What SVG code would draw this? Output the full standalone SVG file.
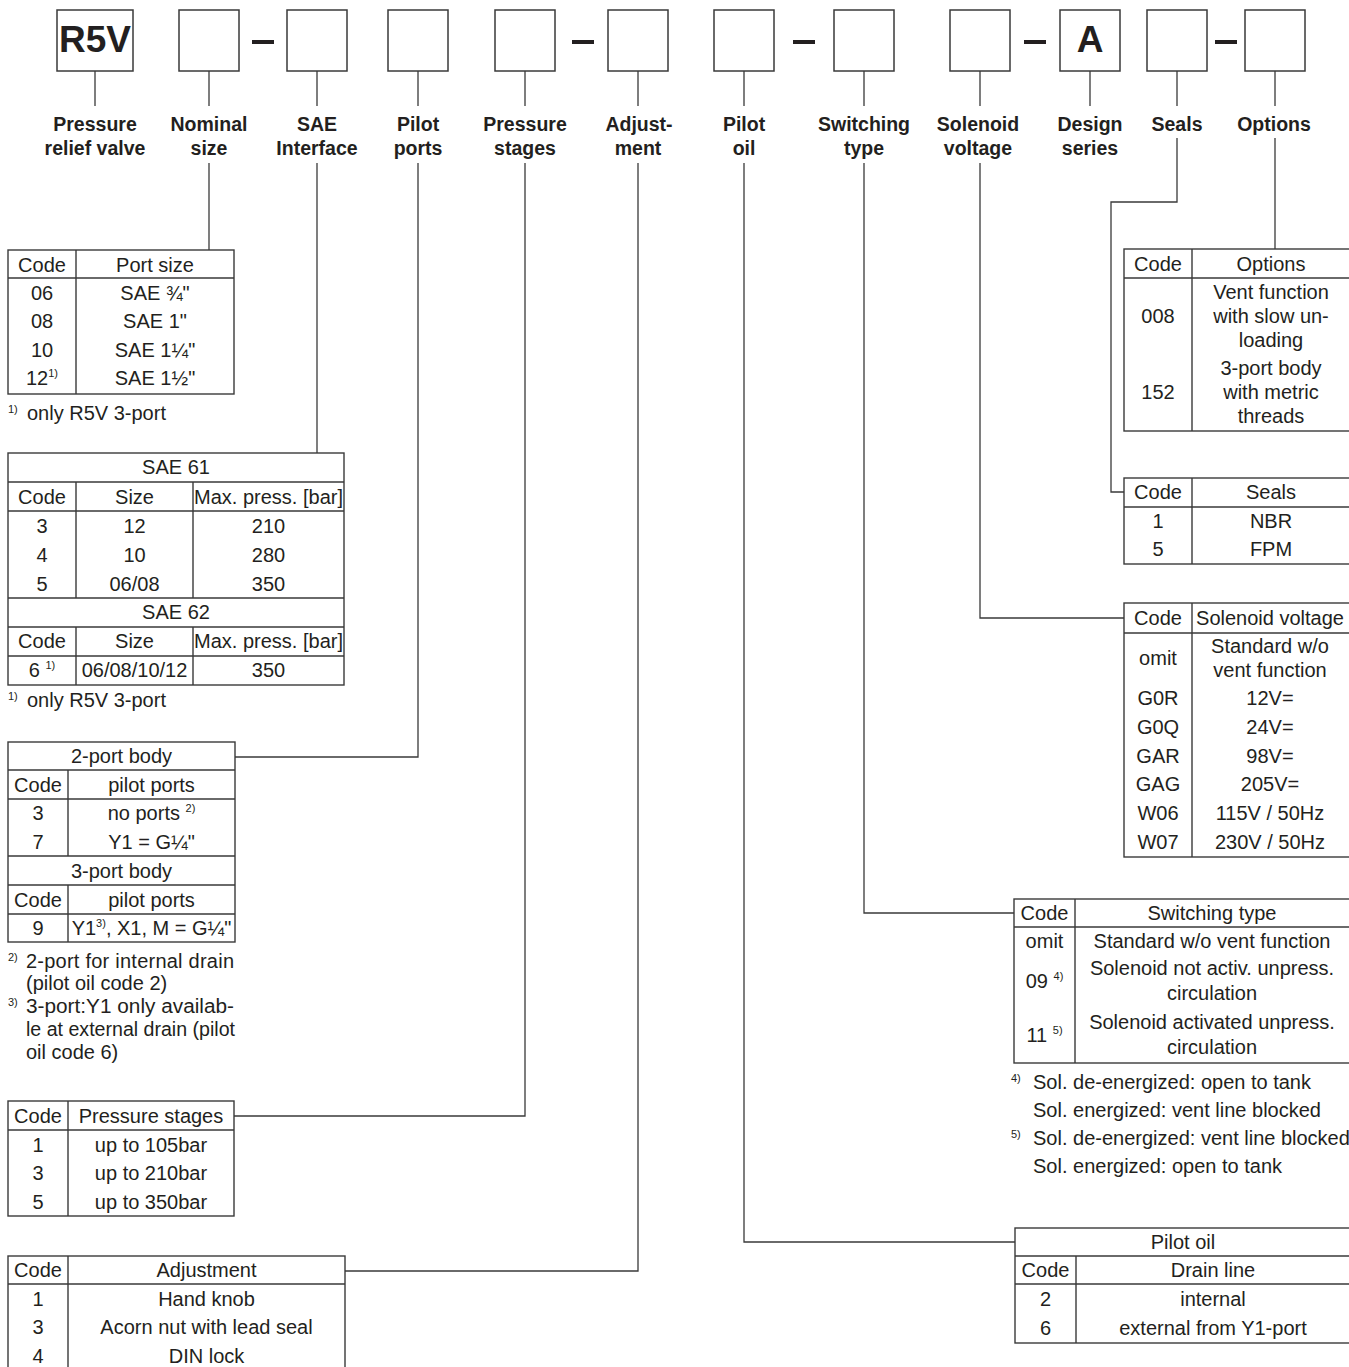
<svg xmlns="http://www.w3.org/2000/svg" width="1349" height="1367" viewBox="0 0 1349 1367">
<style>
text{font-family:"Liberation Sans",Arial,Helvetica,sans-serif;font-size:20px;fill:#231f20;text-anchor:middle}
.lb{font-weight:bold;font-size:19.5px}
.big{font-weight:bold;font-size:37px}
.st{text-anchor:start}
.sup{font-size:11px}
.ln{stroke:#3a3a3a;stroke-width:1.3;fill:none}
.bx{stroke:#3a3a3a;stroke-width:1.5;fill:#fff}
.tb{stroke:#3a3a3a;stroke-width:1.4;fill:none}
.dash{fill:#231f20}
</style>
<rect width="1349" height="1367" fill="#fff"/>

<g id="type-code-boxes">
<rect class="bx" x="57" y="10" width="76" height="61"/>
<text class="big" x="95" y="52">R5V</text>
<rect class="bx" x="179" y="10" width="60" height="61"/>
<rect class="dash" x="252" y="40" width="22" height="4"/>
<rect class="bx" x="287" y="10" width="60" height="61"/>
<rect class="bx" x="388" y="10" width="60" height="61"/>
<rect class="bx" x="495" y="10" width="60" height="61"/>
<rect class="dash" x="572" y="40" width="22" height="4"/>
<rect class="bx" x="608" y="10" width="60" height="61"/>
<rect class="bx" x="714" y="10" width="60" height="61"/>
<rect class="dash" x="793" y="40" width="22" height="4"/>
<rect class="bx" x="834" y="10" width="60" height="61"/>
<rect class="bx" x="950" y="10" width="60" height="61"/>
<rect class="dash" x="1024" y="40" width="22" height="4"/>
<rect class="bx" x="1060" y="10" width="60" height="61"/>
<text class="big" x="1090" y="52">A</text>
<rect class="bx" x="1147" y="10" width="60" height="61"/>
<rect class="dash" x="1215" y="40" width="22" height="4"/>
<rect class="bx" x="1245" y="10" width="60" height="61"/>
</g>

<g id="labels">
<text class="lb" x="95" y="131">Pressure</text><text class="lb" x="95" y="155">relief valve</text>
<text class="lb" x="209" y="131">Nominal</text><text class="lb" x="209" y="155">size</text>
<text class="lb" x="317" y="131">SAE</text><text class="lb" x="317" y="155">Interface</text>
<text class="lb" x="418" y="131">Pilot</text><text class="lb" x="418" y="155">ports</text>
<text class="lb" x="525" y="131">Pressure</text><text class="lb" x="525" y="155">stages</text>
<text class="lb" x="639" y="131">Adjust-</text><text class="lb" x="638" y="155">ment</text>
<text class="lb" x="744" y="131">Pilot</text><text class="lb" x="744" y="155">oil</text>
<text class="lb" x="864" y="131">Switching</text><text class="lb" x="864" y="155">type</text>
<text class="lb" x="978" y="131">Solenoid</text><text class="lb" x="978" y="155">voltage</text>
<text class="lb" x="1090" y="131">Design</text><text class="lb" x="1090" y="155">series</text>
<text class="lb" x="1177" y="131">Seals</text>
<text class="lb" x="1274" y="131">Options</text>
</g>

<g id="connectors" class="ln">
<path d="M95 71V106M209 71V106M317 71V106M418 71V106M525 71V106M638 71V106M744 71V106M864 71V106M980 71V106M1090 71V106M1177 71V106M1275 71V106"/>
<path d="M209 163V250"/>
<path d="M317 163V453"/>
<path d="M418 163V757H235"/>
<path d="M525 163V1116H234"/>
<path d="M638 163V1271H345"/>
<path d="M744 163V1242H1015"/>
<path d="M864 163V913H1014"/>
<path d="M980 163V618H1124"/>
<path d="M1177 138V202H1111V492H1124"/>
<path d="M1275 138V249"/>
</g>

<g id="tbl-nominal-size">
<rect class="tb" x="8" y="250" width="226" height="144"/>
<path class="tb" d="M8 278H234M76 250V394"/>
<text x="42" y="272">Code</text><text x="155" y="272">Port size</text>
<text x="42" y="300">06</text><text x="155" y="300">SAE ¾"</text>
<text x="42" y="328">08</text><text x="155" y="328">SAE 1"</text>
<text x="42" y="357">10</text><text x="155" y="357">SAE 1¼"</text>
<text x="42" y="385">12<tspan class="sup" dy="-8">1)</tspan></text><text x="155" y="385">SAE 1½"</text>
<text class="st sup" x="8" y="413">1)</text><text class="st" x="27" y="420">only R5V 3-port</text>
</g>

<g id="tbl-sae-interface">
<rect class="tb" x="8" y="453" width="336" height="232"/>
<path class="tb" d="M8 482H344M8 511H344M8 598H344M8 627H344M8 656H344M76 482V598M193 482V598M76 627V685M193 627V685"/>
<text x="176" y="474">SAE 61</text>
<text x="42" y="504">Code</text><text x="134.5" y="504">Size</text><text x="268.5" y="504">Max. press. [bar]</text>
<text x="42" y="533">3</text><text x="134.5" y="533">12</text><text x="268.5" y="533">210</text>
<text x="42" y="562">4</text><text x="134.5" y="562">10</text><text x="268.5" y="562">280</text>
<text x="42" y="591">5</text><text x="134.5" y="591">06/08</text><text x="268.5" y="591">350</text>
<text x="176" y="619">SAE 62</text>
<text x="42" y="648">Code</text><text x="134.5" y="648">Size</text><text x="268.5" y="648">Max. press. [bar]</text>
<text x="42" y="677">6 <tspan class="sup" dy="-8">1)</tspan></text><text x="134.5" y="677">06/08/10/12</text><text x="268.5" y="677">350</text>
<text class="st sup" x="8" y="700">1)</text><text class="st" x="27" y="707">only R5V 3-port</text>
</g>

<g id="tbl-pilot-ports">
<rect class="tb" x="8" y="742" width="227" height="200"/>
<path class="tb" d="M8 770H235M8 799H235M8 856H235M8 885H235M8 914H235M68 770V856M68 885V942"/>
<text x="121.5" y="763">2-port body</text>
<text x="38" y="792">Code</text><text x="151.5" y="792">pilot ports</text>
<text x="38" y="820">3</text><text x="151.5" y="820">no ports <tspan class="sup" dy="-8">2)</tspan></text>
<text x="38" y="849">7</text><text x="151.5" y="849">Y1 = G¼"</text>
<text x="121.5" y="878">3-port body</text>
<text x="38" y="907">Code</text><text x="151.5" y="907">pilot ports</text>
<text x="38" y="935">9</text><text x="151.5" y="935">Y1<tspan class="sup" dy="-8">3)</tspan><tspan dy="8">, X1, M = G¼"</tspan></text>
<text class="st sup" x="8" y="961">2)</text>
<text class="st" x="26" y="968" textLength="208" lengthAdjust="spacing">2-port for internal drain</text>
<text class="st" x="26" y="990">(pilot oil code 2)</text>
<text class="st sup" x="8" y="1006">3)</text>
<text class="st" x="26" y="1013" textLength="208" lengthAdjust="spacingAndGlyphs">3-port:Y1 only availab-</text>
<text class="st" x="26" y="1036" textLength="209" lengthAdjust="spacingAndGlyphs">le at external drain (pilot</text>
<text class="st" x="26" y="1059">oil code 6)</text>
</g>

<g id="tbl-pressure-stages">
<rect class="tb" x="8" y="1101" width="226" height="115"/>
<path class="tb" d="M8 1130H234M68 1101V1216"/>
<text x="38" y="1123">Code</text><text x="151" y="1123">Pressure stages</text>
<text x="38" y="1152">1</text><text x="151" y="1152">up to 105bar</text>
<text x="38" y="1180">3</text><text x="151" y="1180">up to 210bar</text>
<text x="38" y="1209">5</text><text x="151" y="1209">up to 350bar</text>
</g>

<g id="tbl-adjustment">
<rect class="tb" x="8" y="1256" width="337" height="125"/>
<path class="tb" d="M8 1284H345M68 1256V1381"/>
<text x="38" y="1277">Code</text><text x="206.5" y="1277">Adjustment</text>
<text x="38" y="1306">1</text><text x="206.5" y="1306">Hand knob</text>
<text x="38" y="1334">3</text><text x="206.5" y="1334">Acorn nut with lead seal</text>
<text x="38" y="1363">4</text><text x="206.5" y="1363">DIN lock</text>
</g>

<g id="tbl-options">
<rect class="tb" x="1124" y="249" width="227" height="182"/>
<path class="tb" d="M1124 278H1351M1192 249V431"/>
<text x="1158" y="271">Code</text><text x="1271" y="271">Options</text>
<text x="1158" y="323">008</text>
<text x="1271" y="299">Vent function</text><text x="1271" y="323">with slow un-</text><text x="1271" y="347">loading</text>
<text x="1158" y="399">152</text>
<text x="1271" y="375">3-port body</text><text x="1271" y="399">with metric</text><text x="1271" y="423">threads</text>
</g>

<g id="tbl-seals">
<rect class="tb" x="1124" y="478" width="227" height="86"/>
<path class="tb" d="M1124 507H1351M1192 478V564"/>
<text x="1158" y="499">Code</text><text x="1271" y="499">Seals</text>
<text x="1158" y="528">1</text><text x="1271" y="528">NBR</text>
<text x="1158" y="556">5</text><text x="1271" y="556">FPM</text>
</g>

<g id="tbl-solenoid-voltage">
<rect class="tb" x="1124" y="603" width="227" height="254"/>
<path class="tb" d="M1124 633H1351M1192 603V857"/>
<text x="1158" y="625">Code</text><text x="1270" y="625">Solenoid voltage</text>
<text x="1158" y="665">omit</text>
<text x="1270" y="653">Standard w/o</text><text x="1270" y="677">vent function</text>
<text x="1158" y="705">G0R</text><text x="1270" y="705">12V=</text>
<text x="1158" y="734">G0Q</text><text x="1270" y="734">24V=</text>
<text x="1158" y="763">GAR</text><text x="1270" y="763">98V=</text>
<text x="1158" y="791">GAG</text><text x="1270" y="791">205V=</text>
<text x="1158" y="820">W06</text><text x="1270" y="820">115V / 50Hz</text>
<text x="1158" y="849">W07</text><text x="1270" y="849">230V / 50Hz</text>
</g>

<g id="tbl-switching-type">
<rect class="tb" x="1014" y="899" width="337" height="164"/>
<path class="tb" d="M1014 927H1351M1075 899V1063"/>
<text x="1044.5" y="920">Code</text><text x="1212" y="920">Switching type</text>
<text x="1044.5" y="948">omit</text><text x="1212" y="948">Standard w/o vent function</text>
<text x="1044.5" y="988">09 <tspan class="sup" dy="-8">4)</tspan></text>
<text x="1212" y="975">Solenoid not activ. unpress.</text><text x="1212" y="1000">circulation</text>
<text x="1044.5" y="1042">11 <tspan class="sup" dy="-8">5)</tspan></text>
<text x="1212" y="1029">Solenoid activated unpress.</text><text x="1212" y="1054">circulation</text>
<text class="st sup" x="1011" y="1082">4)</text>
<text class="st" x="1033" y="1089">Sol. de-energized: open to tank</text>
<text class="st" x="1033" y="1117">Sol. energized: vent line blocked</text>
<text class="st sup" x="1011" y="1138">5)</text>
<text class="st" x="1033" y="1145">Sol. de-energized: vent line blocked</text>
<text class="st" x="1033" y="1173">Sol. energized: open to tank</text>
</g>

<g id="tbl-pilot-oil">
<rect class="tb" x="1015" y="1228" width="336" height="115"/>
<path class="tb" d="M1015 1256H1351M1015 1284H1351M1076 1256V1343"/>
<text x="1183" y="1249">Pilot oil</text>
<text x="1045.5" y="1277">Code</text><text x="1213" y="1277">Drain line</text>
<text x="1045.5" y="1306">2</text><text x="1213" y="1306">internal</text>
<text x="1045.5" y="1335">6</text><text x="1213" y="1335">external from Y1-port</text>
</g>
</svg>
